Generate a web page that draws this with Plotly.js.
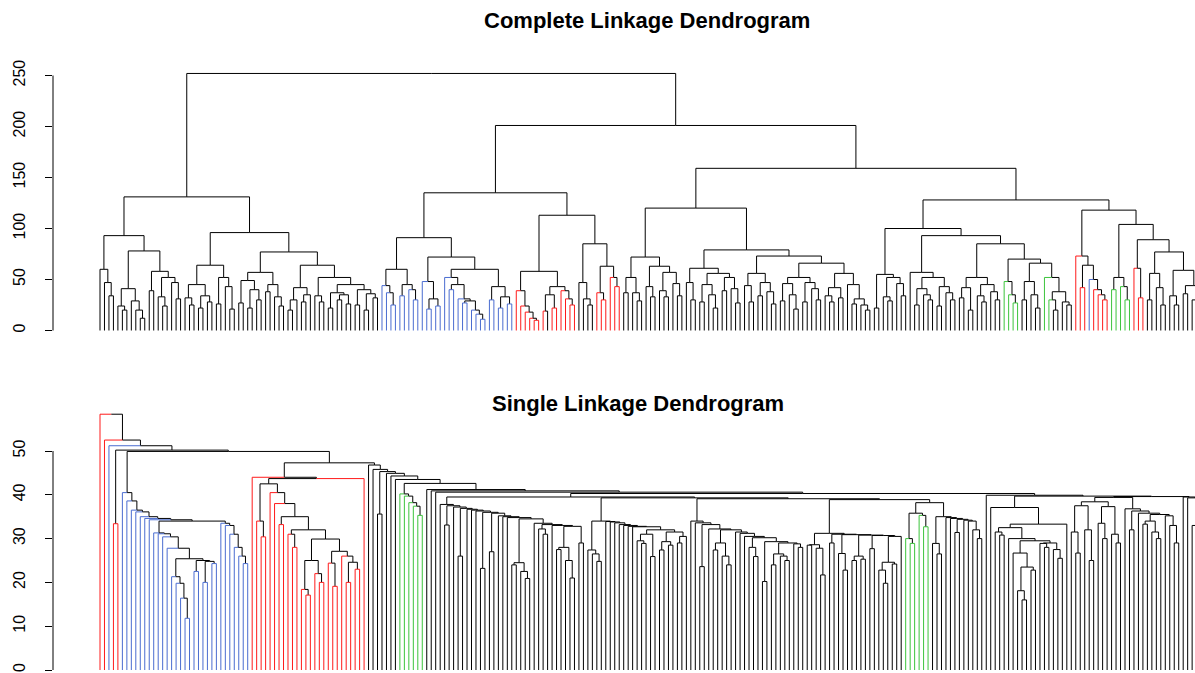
<!DOCTYPE html>
<html><head><meta charset="utf-8">
<script src="https://cdn.plot.ly/plotly-3.0.1.min.js"></script>
<style>html,body{margin:0;padding:0;background:#fff}#chart{width:1195px;height:673px}</style>
</head><body><div id="chart"></div>
<script>
// ---------------- DATA ----------------
// Tree notation: leaf = k (black) / b (blue) / r (red) / g (green)
// (A B)h  = merge of A and B at height h
// [A:h1 B:h2 C] = chain (A (B C)h2)h1
const titles = ["Complete Linkage Dendrogram", "Single Linkage Dendrogram"];
const topTicks = [0, 50, 100, 150, 200, 250];
const bottomTicks = [0, 10, 20, 30, 40, 50];

// ---- complete linkage pieces ----
const cLL = ["(k (k (k k)34)47)60", "((k (k k)20)24 (k (k (k k)12)20)29)41", "((k k)39 ((k (k k)24)33 (k (k k)31)47)52)58"];
const cG = ["((k (k k)25)32 ((k k)22 (k k)28)34)45", "((k k)26 (k (k k)21)43)52"];
const cH = ["(((k k)27 ((k k)22 (k k)30)40)49 ((k k)38 (k (k k)24)33)45)57", "(((k k)20 k)30 ((k k)28 k)35)42",
            "(k (k k)28)34", "((k k)22 ((k k)30 (k k)26)35)37", "((k k)25 ((k k)20 (k k)32)36)40"];
const cR1a = ["((b (b (b b)25)37)44 ((b b)34 (b (b b)30)40)45)60", "(b ((b b)21 (b b)24)31)48",
              "(b ((b b)40 (b ((b b)27 (b (b (b b)11)16)20)29)31)45)52", "((b b)30 ((b b)22 (b b)26)33)43"];
const cR1b = ["(r (r (r (r (r r)10)12)18)24)39", "(((r k)19 (r r)22)35 (r (r (r r)25)31)39)43",
              "((k (k (k k)25)31)47 ((r (r r)30)37 (r (r r)43)52)63)85"];
const cR2a = ["(((k k)37 (k (k k)29)37)52 ((k (k k)33)43 ((k (k k)33)39 (k (k k)34)46)57)63)72",
              "((k (k k)30)47 (((k k)28 (k (k k)22)35)45 ((k k)39 (k (k k)27)41)52)56)61",
              "((k (k k)28)44 ((k k)34 (k (k k)26)38)47)56",
              "(((k k)29 (k (k k)21)35)46 ((k k)28 (k (k k)30)41)47)52",
              "(((k (k k)28)34 (k k)32)42 (k ((k k)26 (k (k k)20)25)31)45)56"];
const cR2bL = ["((k k)22 ((k (k k)29)33 (k (k k)34)46)52)55",
               "(k (((k k)25 (k (k k)30)35)41 ((k k)24 (k (k k)30)37)43)52)57",
               "(((k k)32 (k k)20)42 ((k (k k)28)34 (k (k k)30)38)45)52",
               "((g (g (g g)27)35)48 (((k k)30 (k (k k)22)35)48 (g ((g (k k)20)30 (k (k k)25)28)38)52)66)70"];
const cR2bR = ["(r ((r r)42 (b (r (r (r r)30)35)40)50)64)73", "((g g)40 (g (g g)30)43)52", "(r (r r)32)61",
               "((k k)30 (k (k k)25)42)56", "((k (k k)25)34 ((k k)36 ((k (k k)28)30 (k (k k)20)26)33)44)59"];
const cHeights = {LLd: 78, LL: 93, G: 64, H2br: 45, H2b: 52, H2: 64, H: 77, LR: 96, left: 131,
  R1aR2: 60, R1aR: 72, R1a: 91, R1bL: 58, R1b: 113, R1: 135,
  R2aRRR: 66, R2aRR: 73, R2aR: 79, R2a: 120, R2bLRR: 85, R2bLR: 93, R2bL: 100,
  R2bR4: 77, R2bR3: 89, R2bR2: 104, R2bR: 118, R2b: 128, R2: 159, right: 201, root: 252};

// ---- single linkage pieces ----
const sBlue = ["[b:31.3 b:31.1 b:30.4 b:27.8 ((b (b (b (b b)11.8)16.4)19.8)21.3 ((b b)22.5 ((b b)20 (b b)24.3)24.8)25)25.4]",
               "[b:33.5 b:33 b:31 (b (b (b b)24.3)26)28]"];
const sBlueChain = [40.5, 38.6, 36.5, 36.1, 35, 34.6, 34.3, 34];
const sRed = ["((r (r r)17.1)18.4 (r (r r)20)22)25", "((r (r r)19.1)24.4 (r ((r r)20 (r r)23)24.6)26)27.1"];
const sGreen = ["[g:40.2 g:39.7 g:38.2 g:37.4 (g g)35.3]", "((g (g g)28.9)30 (g (g g)32.7)35.3)35.8"];
const sMid = [
 "[k:37.8 (k k)33.1:37.5 k:37.2 (k k)26:36.9 k:36.7 k:36.5 k:36.3 (k k)23.2:36 (k k)27:35.8 k:35.2 k:35 k:34.8 ((k k)24 (k (k k)20.9)22.5)24.5:34.5 k:33.5 (k (k k)31)32.2:33.2 k:33 ((k k)27.5 (k (k k)21)25)28:32.8 (k k)29]",
 "[[k:27.4 k:26.5 (k k)24.8]:34 k:33.9 k:33.8 k:33.6 k:33.2 k:33 k:32.8 k:32.7 ((k (k k)28.9)29.5 (k k)25.9)31:32 ((k k)27.4 (k k)28.5)29.3:31.5 ((k k)29 k)30.5]",
 "[k:34 k:33.6 (k k)23.6:33.2 k:32.2 ((k k)27.4 (k (k k)24)26)29:32 k:31.5 k:31.2 k:30.5 (k (k k)25.9)28:30.2 (k k)20.2:29.3 ((k k)24 (k (k k)25)26)26.5:29 (k (k k)28)28.8]",
 "[((k k)28.5 (k (k k)21.7)27.8)28.6:31.2 (k k)29:31 (k (k k)22.8)26.6:30.9 ((k k)25 (k k)25.3)26:30.8 (k k)27.7:30.7 ((k (k k)19.8)22.8 (k k)24.2)24.6:30.5 k]",
 "[(k (k k)26.5)28.9:35 k:34.8 k:34.6 (k k)31.4:34.4 k:34.2 k:34 (k (k k)30)32]"];
const sEast = [
 "(k ([(k (k k)30.8)31.5:32.5 k:30 ((k ((k (k k)16)18.1 (k k)22.8)23.5)26.7 ((k (k k)28)28.9 (k (k k)25.5)27.5)29)29.5] k)33.3)37.1",
 "(((k (k k)26.7)31.5 (k (k k)25)32)37.5 ((k (k k)30)33.5 (k (k k)29)31)37.3)38.4",
 "[k:36.8 (k k)32:36.3 k:35.8 ((k k)33.3 (k (k k)30)31.5)34:35.5 k:35.2 (k (k k)29)33]",
 "[k:39.5 k:39.3 ((k (k k)31)33 (k (k k)30)34)36.5]"];

// ---------------- BUILD TREE STRINGS ----------------
const H = cHeights;
const tLeft = `((${cLL[0]} (${cLL[1]} ${cLL[2]})${H.LLd})${H.LL} ((${cG[0]} ${cG[1]})${H.G} (${cH[0]} (${cH[1]} (${cH[2]} (${cH[3]} ${cH[4]})${H.H2br})${H.H2b})${H.H2})${H.H})${H.LR})${H.left}`;
const tR1 = `((${cR1a[0]} (${cR1a[1]} (${cR1a[2]} ${cR1a[3]})${H.R1aR2})${H.R1aR})${H.R1a} ((${cR1b[0]} ${cR1b[1]})${H.R1bL} ${cR1b[2]})${H.R1b})${H.R1}`;
const tR2a = `(${cR2a[0]} (${cR2a[1]} (${cR2a[2]} (${cR2a[3]} ${cR2a[4]})${H.R2aRRR})${H.R2aRR})${H.R2aR})${H.R2a}`;
const tR2bL = `(${cR2bL[0]} (${cR2bL[1]} (${cR2bL[2]} ${cR2bL[3]})${H.R2bLRR})${H.R2bLR})${H.R2bL}`;
const tR2bR = `(${cR2bR[0]} (${cR2bR[1]} (${cR2bR[2]} (${cR2bR[3]} ${cR2bR[4]})${H.R2bR4})${H.R2bR3})${H.R2bR2})${H.R2bR}`;
const completeTree = `(${tLeft} (${tR1} (${tR2a} (${tR2bL} ${tR2bR})${H.R2b})${H.R2})${H.right})${H.root}`;

const blueStr = "[" + sBlueChain.slice(0, -1).map(h => "b:" + h).join(" ") + ` (${sBlue[0]} ${sBlue[1]})${sBlueChain[sBlueChain.length - 1]}]`;
const redStr = `(r (((r (r r)30.4)34 [r:40.5 r:38 (r r)33.2:35 ((r (r r)28)31 (${sRed[0]} ${sRed[1]})29.9)32])42.5 r)43.7)44`;
const midStr = `[${sMid[0]}:39.5 ${sMid[1]}:39.3 ${sMid[2]}:39.1 (${sMid[3]} (${sGreen[1]} ${sMid[4]})38.2)38.9]`;
const rightStr = `(k (${sEast[0]} ((${sEast[1]} ${sEast[2]})39.4 ${sEast[3]})39.6)39.7)39.9`;
const coreStr = `[k:41.2 k:40.9 k:40.6 (${midStr} ${rightStr})40.3]`;
const blackStr = `[k:46.8 k:45.8 (k k)35.6:45.3 k:44.9 k:44.3 k:43.5 (${sGreen[0]} ${coreStr})42.6]`;
const singleTree = `[r:58.4 r:52.5 b:51.2 (r r)33.4:50.2 ${blueStr}:49.9 (${redStr} ${blackStr})47.3]`;

// ---------------- PARSE / LAYOUT ----------------
function parseTree(s) {
  let i = 0;
  const ws = () => { while (i < s.length && /\s/.test(s[i])) i++; };
  const num = () => { ws(); const j = i; while (i < s.length && /[0-9.]/.test(s[i])) i++; return parseFloat(s.slice(j, i)); };
  function node() {
    ws(); const c = s[i];
    if ("kbrg".includes(c)) { i++; return {leaf: true, col: c, h: 0}; }
    if (c === "(") { i++; const a = node(); const b = node(); ws(); if (s[i] !== ")") throw new Error("expected ) at " + i); i++; return {l: a, r: b, h: num()}; }
    if (c === "[") {
      i++; const items = [];
      while (true) {
        const n = node(); ws();
        if (s[i] === ":") { i++; items.push([n, num()]); }
        else if (s[i] === "]") { i++; let acc = n; for (let j = items.length - 1; j >= 0; j--) acc = {l: items[j][0], r: acc, h: items[j][1]}; return acc; }
        else throw new Error("bad chain at " + i);
      }
    }
    throw new Error("unexpected " + c + " at " + i);
  }
  return node();
}
function layoutTree(root) {
  let idx = 0;
  (function walk(n) { if (n.leaf) { n.x = ++idx; return; } walk(n.l); walk(n.r); n.x = (n.l.x + n.r.x) / 2; })(root);
  return idx;
}
function segments(root) {
  const groups = {};
  (function walk(p) {
    if (p.leaf) return;
    for (const c of [p.l, p.r]) {
      const col = c.leaf ? c.col : "k";
      const g = groups[col] || (groups[col] = {x: [], y: []});
      g.x.push(p.x, c.x, c.x, null); g.y.push(p.h, p.h, c.h, null);
      walk(c);
    }
  })(root);
  return groups;
}
const colorMap = {k: "#000000", b: "#4a6cd0", r: "#ff1a1a", g: "#3cc43c"};
const traces = [];
[[completeTree, "x", "y"], [singleTree, "x2", "y2"]].forEach(([str, xa, ya]) => {
  const t = parseTree(str); layoutTree(t);
  const g = segments(t);
  ["k", "b", "r", "g"].forEach(col => {
    if (!g[col]) return;
    traces.push({type: "scatter", mode: "lines", x: g[col].x, y: g[col].y, xaxis: xa, yaxis: ya,
      line: {color: colorMap[col], width: 1}, hoverinfo: "skip", showlegend: false, connectgaps: false});
  });
});

// ---------------- LAYOUT ----------------
const W = 1195, Ht = 673, ML = 53;
const S = 4.476;                 // px per leaf
const x0 = 1 - (100 - ML) / S;   // leaf 1 at px 100
const x1 = x0 + (W - ML) / S;
const py = px => 1 - px / Ht;
const font = "Liberation Sans, Arial, Helvetica, sans-serif";
const yTop = {px0: 330.5, per: 1.02}, yBot = {px0: 670, per: 4.38};
const axisCommon = {showgrid: false, zeroline: false, showline: false, ticks: "outside", ticklen: 7, tickwidth: 1,
  tickcolor: "#000", tickangle: -90, ticklabelstandoff: 14, tickfont: {family: font, size: 16, color: "#000"}, fixedrange: true};
const layout = {
  width: W, height: Ht, margin: {l: ML, r: 0, t: 0, b: 0}, paper_bgcolor: "#fff", plot_bgcolor: "#fff",
  showlegend: false,
  xaxis: {domain: [0, 1], range: [x0, x1], visible: false, fixedrange: true},
  xaxis2: {domain: [0, 1], range: [x0, x1], visible: false, fixedrange: true, anchor: "y2"},
  yaxis: Object.assign({}, axisCommon, {domain: [py(341), py(62)], range: [(yTop.px0 - 341) / yTop.per, (yTop.px0 - 62) / yTop.per],
    tickvals: topTicks, ticktext: topTicks.map(String), anchor: "x"}),
  yaxis2: Object.assign({}, axisCommon, {domain: [0, py(404)], range: [(yBot.px0 - 673) / yBot.per, (yBot.px0 - 404) / yBot.per],
    tickvals: bottomTicks, ticktext: bottomTicks.map(String), anchor: "x2"}),
  shapes: [
    {type: "line", xref: "paper", yref: "y", x0: 0, x1: 0, y0: topTicks[0], y1: topTicks[topTicks.length - 1], line: {color: "#000", width: 1}},
    {type: "line", xref: "paper", yref: "y2", x0: 0, x1: 0, y0: bottomTicks[0], y1: bottomTicks[bottomTicks.length - 1], line: {color: "#000", width: 1}}
  ],
  annotations: [
    {text: titles[0], xref: "paper", yref: "paper", x: (647 - ML) / (W - ML), y: py(20), xanchor: "center", yanchor: "middle",
     showarrow: false, font: {family: font, size: 22, color: "#000", weight: "bold"}},
    {text: titles[1], xref: "paper", yref: "paper", x: (638 - ML) / (W - ML), y: py(403), xanchor: "center", yanchor: "middle",
     showarrow: false, font: {family: font, size: 22, color: "#000", weight: "bold"}}
  ]
};
Plotly.newPlot("chart", traces, layout, {staticPlot: true, displayModeBar: false});
</script>
</body></html>
